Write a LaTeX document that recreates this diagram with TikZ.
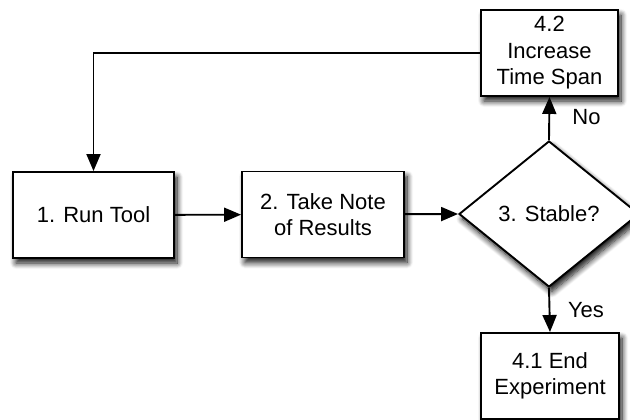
\documentclass[tikz,border=0pt]{standalone}
\usepackage{fontspec}
\setmainfont{Liberation Sans}
\usetikzlibrary{arrows.meta,shapes.geometric,shadows.blur}

\tikzset{
  flowfont/.style={font=\fontsize{22}{26.5}\selectfont},
  flowshadow/.style={blur shadow={shadow xshift=3pt, shadow yshift=-5pt,
      shadow blur radius=6pt, shadow blur steps=10, shadow opacity=95}},
  stepbox/.style={draw=black, line width=1.9pt, fill=white, flowshadow,
      align=center, inner sep=0pt, minimum height=86pt, flowfont},
  decision/.style={diamond, draw=black, line width=1.9pt, fill=white, flowshadow,
      inner sep=0pt, minimum width=180pt, minimum height=146pt, flowfont},
  flow/.style={draw=black, line width=1.9pt,
      -{Triangle[width=14pt,length=17pt]}},
  branch/.style={flowfont, inner sep=0pt}
}

\begin{document}
\begin{tikzpicture}[x=1pt, y=-1pt]
  \useasboundingbox (0,0) rectangle (630,420);
  \clip (0,0) rectangle (630,420);

  % process steps
  \node[stepbox, minimum width=161pt] (run)   at (93.5,215) {1. Run Tool};
  \node[stepbox, minimum width=162pt] (note)  at (323,214.5) {2. Take Note\\of Results};
  \node[decision] (stable) at (549,214) {3. Stable?};
  \node[stepbox, minimum width=137pt] (span)  at (549.5,53) {4.2\\Increase\\Time Span};
  \node[stepbox, minimum width=138pt] (done)  at (550,376) {4.1 End\\Experiment};

  % connectors
  \draw[flow] (run) -- (note);
  \draw[flow] (note) -- (stable.west);
  \draw[flow] (stable.north) -- (span.south);
  \draw[flow] (stable.south) -- (done.north);
  \draw[flow] (span.west) -| (run.north);

  % branch labels
  \node[branch] (no)  at (586.5,117.5) {No};
  \node[branch] (yes) at (586,310.5) {Yes};
\end{tikzpicture}
\end{document}
